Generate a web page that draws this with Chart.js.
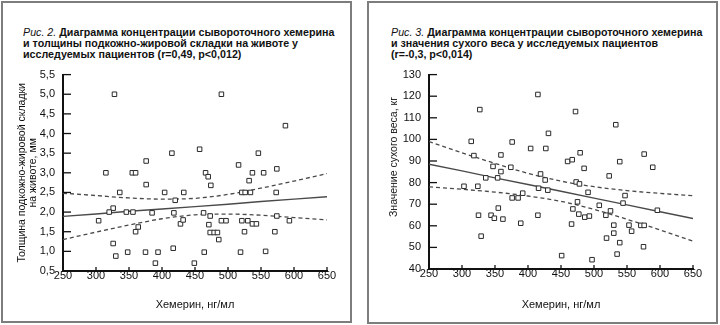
<!DOCTYPE html>
<html>
<head>
<meta charset="utf-8">
<script src="https://cdn.jsdelivr.net/npm/chart.js@4.4.1/dist/chart.umd.min.js"></script>
<style>
  html, body { margin:0; padding:0; background:#fff; }
  body { width:720px; height:325px; position:relative; overflow:hidden; font-family:"Liberation Sans", Arial, sans-serif; color:#111; }
  .panel { position:absolute; border:2px solid #7d7d7d; box-sizing:border-box; }
  .title { position:absolute; font-size:10.7px; line-height:11px; font-weight:bold; white-space:nowrap; }
  .title i { font-weight:normal; }
  canvas { position:absolute; }
  .ytitle { position:absolute; font-size:10.5px; white-space:nowrap; transform-origin:center center; transform:translate(-50%,-50%) rotate(-90deg); }
</style>
</head>
<body>
<div class="panel" style="left:1px; top:1px; width:351px; height:322px;"></div>
<div class="panel" style="left:367px; top:1px; width:351px; height:323px;"></div>

<div class="title" style="left:23px; top:27px;"><i>Рис. 2.</i> Диаграмма концентрации сывороточного хемерина<br>и толщины подкожно-жировой складки на животе у<br>исследуемых пациентов (r=0,49, p&lt;0,012)</div>
<div class="title" style="left:391px; top:27px;"><i>Рис. 3.</i> Диаграмма концентрации сывороточного хемерина<br>и значения сухого веса у исследуемых пациентов<br>(r=-0,3, p&lt;0,014)</div>

<canvas id="c1" width="352" height="262" style="left:0px; top:60px; width:352px; height:262px;"></canvas>
<canvas id="c2" width="360" height="262" style="left:360px; top:60px; width:360px; height:262px;"></canvas>
<div class="ytitle" style="left:393px; top:157px;">Значение сухого веса, кг</div>

<script>
// ---- Data: Fig. 2 (chemerin vs abdominal skinfold) ----
const chemerinA = [328,315,355,360,376,415,457,336,376,404,433,420,326,320,346,356,385,418,304,428,432,364,360,326,330,348,375,394,417,390,449,
  490,587,546,516,466,537,554,574,470,532,474,521,526,534,573,463,473,574,593,490,497,521,530,537,543,471,473,479,484,525,571,486,464,519,557];
const skinfold = [5.0,3.0,3.0,3.0,3.3,3.5,3.6,2.5,2.7,2.5,2.5,2.3,2.1,2.0,2.0,2.0,1.98,1.98,1.78,1.7,1.8,1.62,1.5,1.2,0.88,0.98,0.98,0.98,1.08,0.7,0.7,
  5.0,4.2,3.5,3.2,3.0,3.0,3.0,3.1,2.9,2.8,2.68,2.5,2.5,2.5,2.5,1.98,1.9,1.9,1.78,1.78,1.78,1.78,1.78,1.7,1.7,1.68,1.48,1.48,1.48,1.5,1.5,1.3,0.98,0.98,1.0];
const bandX = [250,300,350,400,450,500,550,600,650];
const fitA = [1.89,1.95,2.02,2.08,2.14,2.20,2.27,2.33,2.39];
const upperA = [2.48,2.42,2.36,2.33,2.35,2.45,2.61,2.79,2.98];
const lowerA = [1.30,1.49,1.67,1.83,1.93,1.95,1.92,1.86,1.80];
const xTicks = [250,300,350,400,450,500,550,600,650];
const yTicksA = [0.5,1.0,1.5,2.0,2.5,3.0,3.5,4.0,4.5,5.0,5.5];

// ---- Data: Fig. 3 (chemerin vs dry weight) ----
const chemerinB = [415,327,431,314,376,404,427,318,359,347,374,359,336,354,419,426,303,324,416,430,392,376,385,355,325,344,349,362,389,415,329,451,
  472,533,479,576,460,467,539,485,589,523,473,478,491,547,475,544,596,508,468,525,518,477,486,493,466,530,553,571,576,557,530,519,539,575,535,497];
const dryWeight = [120.8,113.8,102.8,99.1,98.8,95.8,95.8,92.5,92.8,87.5,87.1,85.1,82.2,82.2,84,81.2,78.3,78.3,77.4,76.5,75.1,72.9,72.9,68.2,64.9,64.9,63.5,63.1,61.2,64.9,55.2,46.2,
  112.9,106.8,93.8,93.2,89.8,90.6,89.7,86.6,87.1,83.1,80.3,79.4,75.5,74,71.1,70.5,67.2,69.5,67.8,66.9,64.9,65.4,64,64.5,60.8,60.3,60.3,60.2,60.2,57.5,56.6,54.3,52.2,50.3,46.9,44.3];
const fitB = [88.5,85.4,82.2,79.1,76.0,72.8,69.7,66.5,63.4];
const upperB = [99.0,93.8,88.9,84.3,80.7,78.1,76.3,75.0,73.9];
const lowerB = [78.0,76.9,75.6,73.8,71.3,67.6,63.0,58.1,52.9];
const yTicksB = [40,50,60,70,80,90,100,110,120,130];

const FONT = '"Liberation Sans", Arial, sans-serif';
const INK = '#111';

const inwardTicks = {
  id: 'inwardTicks',
  afterDatasetsDraw(chart) {
    const {ctx, chartArea, scales: {x, y}} = chart;
    ctx.save();
    ctx.strokeStyle = INK;
    ctx.lineWidth = 1.3;
    x.ticks.forEach(t => {
      const px = x.getPixelForValue(t.value);
      ctx.beginPath(); ctx.moveTo(px, chartArea.bottom); ctx.lineTo(px, chartArea.bottom - 4); ctx.stroke();
    });
    y.ticks.forEach(t => {
      const py = y.getPixelForValue(t.value);
      ctx.beginPath(); ctx.moveTo(chartArea.left, py); ctx.lineTo(chartArea.left + 8, py); ctx.stroke();
    });
    ctx.restore();
  }
};

function pts(xs, ys) { return xs.map((v, i) => ({x: v, y: ys[i]})); }

function makeChart(id, opt) {
  return new Chart(document.getElementById(id), {
    type: 'scatter',
    data: {
      datasets: [
        { data: pts(opt.xs, opt.ys), pointStyle: 'rect', pointRadius: 3.2, borderColor: '#2a2a2a', backgroundColor: '#fff', borderWidth: 1, order: 1 },
        { type: 'line', data: pts(bandX, opt.fit), borderColor: '#4a4a4a', borderWidth: 1.4, pointRadius: 0, fill: false, order: 2 },
        { type: 'line', data: pts(bandX, opt.up), borderColor: '#4a4a4a', borderWidth: 1.3, borderDash: [4, 3], pointRadius: 0, fill: false, cubicInterpolationMode: 'monotone', order: 2 },
        { type: 'line', data: pts(bandX, opt.lo), borderColor: '#4a4a4a', borderWidth: 1.3, borderDash: [4, 3], pointRadius: 0, fill: false, cubicInterpolationMode: 'monotone', order: 2 }
      ]
    },
    options: {
      responsive: false,
      animation: false,
      events: [],
      layout: { padding: opt.pad },
      plugins: { legend: { display: false }, tooltip: { enabled: false } },
      scales: {
        x: {
          type: 'linear', min: 250, max: 650,
          afterBuildTicks: s => { s.ticks = xTicks.map(v => ({value: v})); },
          ticks: { color: INK, padding: -2, font: { family: FONT, size: 11 }, maxRotation: 0 },
          grid: { drawOnChartArea: false, drawTicks: false },
          border: { display: true, color: INK, width: 2 },
          afterFit: s => { s.height = opt.xh; },
          title: { display: true, text: 'Хемерин, нг/мл', color: INK, font: { family: FONT, size: 11 }, padding: { top: 0, bottom: 10 } }
        },
        y: {
          type: 'linear', min: opt.ymin, max: opt.ymax,
          afterBuildTicks: s => { s.ticks = opt.yt.map(v => ({value: v})); },
          ticks: { color: INK, padding: 8, font: { family: FONT, size: 11 }, callback: opt.fmt },
          grid: { drawOnChartArea: false, drawTicks: false },
          border: { display: true, color: INK, width: 2 },
          afterFit: s => { s.width = opt.yw; },
          title: opt.ytitle
        }
      }
    },
    plugins: [inwardTicks]
  });
}

makeChart('c1', {
  xs: chemerinA, ys: skinfold, fit: fitA, up: upperA, lo: lowerA,
  ymin: 0.5, ymax: 5.5, yt: yTicksA, fmt: v => v.toFixed(1).replace('.', ','),
  pad: { left: 0, right: 25, top: 11, bottom: 0 }, yw: 63, xh: 51,
  ytitle: { display: true, text: ['Толщина подкожно-жировой складки', 'на животе, мм'], color: INK,
            font: { family: FONT, size: 10.5, lineHeight: 1.0 }, padding: { top: 17, bottom: 0 } }
});

makeChart('c2', {
  xs: chemerinB, ys: dryWeight, fit: fitB, up: upperB, lo: lowerB,
  ymin: 40, ymax: 130, yt: yTicksB, fmt: v => String(v),
  pad: { left: 0, right: 27, top: 14, bottom: 0 }, yw: 69, xh: 53,
  ytitle: { display: false }
});
</script>
</body>
</html>
